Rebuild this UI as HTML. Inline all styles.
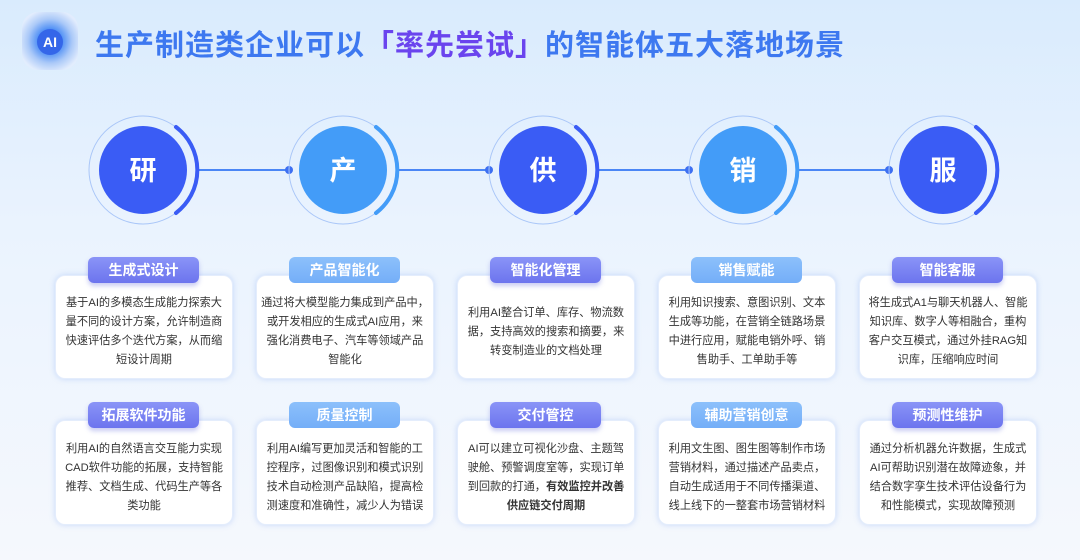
<!DOCTYPE html>
<html><head><meta charset="utf-8"><style>
*{margin:0;padding:0;box-sizing:border-box}
body{width:1080px;height:560px;overflow:hidden;background:linear-gradient(180deg,#d9ebfd 0%,#eaf3fe 40%,#f5f8fd 100%);font-family:"Liberation Sans","Noto Sans CJK SC",sans-serif;position:relative}
.title{position:absolute;left:95px;top:22px;font-size:29px;font-weight:bold;color:#3d78f0;letter-spacing:1px;white-space:nowrap}
.title .p{color:#6a44ee}
.icon{position:absolute;left:22px;top:12px;width:56px;height:58px;border-radius:16px;background:radial-gradient(circle at 50% 50%,#2f6ff0 0,#4a8cf5 30%,#a9c8f8 55%,#e3edfd 80%);opacity:.95}
.icon span{position:absolute;left:15px;top:17px;width:26px;height:26px;border-radius:50%;background:#2c5fe8;color:#fff;font-weight:bold;font-size:14px;text-align:center;line-height:26px}
.card{position:absolute;width:178px;background:#fff;border-radius:10px;box-shadow:0 0 6px rgba(120,160,240,.35);border:1px solid #e4edfc;font-size:11.2px;line-height:19px;color:#333;text-align:center;display:flex;align-items:center;justify-content:center;padding:10px 4px 0;white-space:nowrap}
.pill{position:absolute;width:111px;height:26px;border-radius:6px;color:#fff;font-weight:bold;font-size:14px;text-align:center;line-height:26px}
.pu{background:linear-gradient(180deg,#8a94f7,#6c74ee);box-shadow:0 3px 5px rgba(100,110,220,.35)}
.lb{background:linear-gradient(180deg,#8cc0fb,#74aef8)}
svg{position:absolute;left:0;top:0}
</style></head><body>
<div class="icon"><span>AI</span></div>
<div class="title">生产制造类企业可以<span class="p">「率先尝试」</span>的智能体五大落地场景</div>
<svg width="1080" height="240">
<g stroke="#4a86f5" stroke-width="2">
<line x1="198" y1="170" x2="289" y2="170"/><line x1="398" y1="170" x2="489" y2="170"/><line x1="598" y1="170" x2="689" y2="170"/><line x1="798" y1="170" x2="889" y2="170"/>
</g>
<g fill="#3d6ff2"><circle cx="289" cy="170" r="4"/><circle cx="489" cy="170" r="4"/><circle cx="689" cy="170" r="4"/><circle cx="889" cy="170" r="4"/></g>
<g fill="none" stroke="#a9c6f8" stroke-width="1">
<circle cx="143" cy="170" r="54"/><circle cx="343" cy="170" r="54"/><circle cx="543" cy="170" r="54"/><circle cx="743" cy="170" r="54"/><circle cx="943" cy="170" r="54"/>
</g>
<g fill="none" stroke-width="4" stroke-linecap="round">
<path d="M176 127 A54 54 0 0 1 176 213" stroke="#3a5cf5"/>
<path d="M376 127 A54 54 0 0 1 376 213" stroke="#439cf8"/>
<path d="M576 127 A54 54 0 0 1 576 213" stroke="#3a5cf5"/>
<path d="M776 127 A54 54 0 0 1 776 213" stroke="#439cf8"/>
<path d="M976 127 A54 54 0 0 1 976 213" stroke="#3a5cf5"/>
</g>
<circle cx="143" cy="170" r="44" fill="#3a5cf5"/><circle cx="343" cy="170" r="44" fill="#439cf8"/><circle cx="543" cy="170" r="44" fill="#3a5cf5"/><circle cx="743" cy="170" r="44" fill="#439cf8"/><circle cx="943" cy="170" r="44" fill="#3a5cf5"/>
<g fill="#fff" font-size="27" font-weight="bold" text-anchor="middle" font-family="Liberation Sans,Noto Sans CJK SC,sans-serif">
<text x="143" y="180">研</text><text x="343" y="180">产</text><text x="543" y="180">供</text><text x="743" y="180">销</text><text x="943" y="180">服</text>
</g>
</svg>

<div class="card" style="left:55px;top:275px;height:104px"><div>基于AI的多模态生成能力探索大<br>量不同的设计方案，允许制造商<br>快速评估多个迭代方案，从而缩<br>短设计周期</div></div>
<div class="card" style="left:256px;top:275px;height:104px"><div>通过将大模型能力集成到产品中，<br>或开发相应的生成式AI应用，来<br>强化消费电子、汽车等领域产品<br>智能化</div></div>
<div class="card" style="left:457px;top:275px;height:104px"><div>利用AI整合订单、库存、物流数<br>据，支持高效的搜索和摘要，来<br>转变制造业的文档处理</div></div>
<div class="card" style="left:658px;top:275px;height:104px"><div>利用知识搜索、意图识别、文本<br>生成等功能，在营销全链路场景<br>中进行应用，赋能电销外呼、销<br>售助手、工单助手等</div></div>
<div class="card" style="left:859px;top:275px;height:104px"><div>将生成式A1与聊天机器人、智能<br>知识库、数字人等相融合，重构<br>客户交互模式，通过外挂RAG知<br>识库，压缩响应时间</div></div>

<div class="card" style="left:55px;top:420px;height:105px"><div>利用AI的自然语言交互能力实现<br>CAD软件功能的拓展，支持智能<br>推荐、文档生成、代码生产等各<br>类功能</div></div>
<div class="card" style="left:256px;top:420px;height:105px"><div>利用AI编写更加灵活和智能的工<br>控程序，过图像识别和模式识别<br>技术自动检测产品缺陷，提高检<br>测速度和准确性，减少人为错误</div></div>
<div class="card" style="left:457px;top:420px;height:105px"><div>AI可以建立可视化沙盘、主题驾<br>驶舱、预警调度室等，实现订单<br>到回款的打通，<b>有效监控并改善<br>供应链交付周期</b></div></div>
<div class="card" style="left:658px;top:420px;height:105px"><div>利用文生图、图生图等制作市场<br>营销材料，通过描述产品卖点，<br>自动生成适用于不同传播渠道、<br>线上线下的一整套市场营销材料</div></div>
<div class="card" style="left:859px;top:420px;height:105px"><div>通过分析机器允许数据，生成式<br>AI可帮助识别潜在故障迹象，并<br>结合数字孪生技术评估设备行为<br>和性能模式，实现故障预测</div></div>

<div class="pill pu" style="left:88px;top:257px">生成式设计</div>
<div class="pill lb" style="left:289px;top:257px">产品智能化</div>
<div class="pill pu" style="left:490px;top:257px">智能化管理</div>
<div class="pill lb" style="left:691px;top:257px">销售赋能</div>
<div class="pill pu" style="left:892px;top:257px">智能客服</div>
<div class="pill pu" style="left:88px;top:402px">拓展软件功能</div>
<div class="pill lb" style="left:289px;top:402px">质量控制</div>
<div class="pill pu" style="left:490px;top:402px">交付管控</div>
<div class="pill lb" style="left:691px;top:402px">辅助营销创意</div>
<div class="pill pu" style="left:892px;top:402px">预测性维护</div>
</body></html>
